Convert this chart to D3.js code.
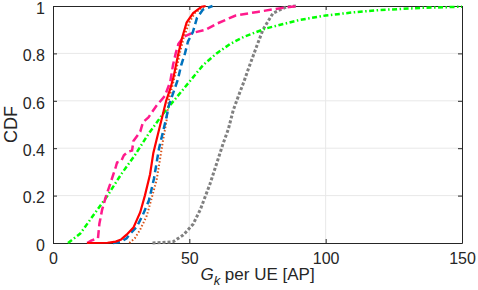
<!DOCTYPE html>
<html>
<head>
<meta charset="utf-8">
<script src="https://cdn.jsdelivr.net/npm/d3@7"></script>
<style>
  body { margin: 0; background: #fff; }
  svg { display: block; font-family: "Liberation Sans", Arial, sans-serif; }
</style>
</head>
<body>
<svg id="canvas" width="478" height="290"></svg>
<script>
// values (x = G_k, y = CDF)
let greenX = [5.5, 10, 15, 20, 25, 30, 35, 40, 45, 50, 55, 60, 65, 70, 78, 90, 100, 110, 120, 135, 150]
let greenY = [0, 0.04, 0.12, 0.2, 0.29, 0.37, 0.46, 0.54, 0.61, 0.68, 0.75, 0.8, 0.84, 0.87, 0.905, 0.94, 0.96, 0.973, 0.983, 0.992, 0.997]

let pinkX = [12.5, 14, 16.5, 17, 18, 19.5, 21, 23, 23.5, 25, 26, 27.5, 29, 29.5, 32, 33, 35, 38, 41, 43, 44, 45, 46, 48, 51, 56, 60, 67, 75, 83, 90]
let pinkY = [0, 0.01, 0.02, 0.08, 0.14, 0.2, 0.25, 0.32, 0.34, 0.345, 0.37, 0.385, 0.39, 0.43, 0.47, 0.51, 0.53, 0.58, 0.62, 0.68, 0.75, 0.8, 0.84, 0.87, 0.886, 0.9, 0.925, 0.96, 0.975, 0.99, 1]

let redX = [12.5, 20, 23, 25, 27, 29.5, 32, 33.7, 35.6, 36.8, 38.5, 40, 41.5, 43, 44.2, 45.8, 47.2, 49, 51.4, 54.5, 56]
let redY = [0, 0.001, 0.006, 0.015, 0.035, 0.065, 0.13, 0.2, 0.29, 0.38, 0.46, 0.53, 0.6, 0.65, 0.7, 0.79, 0.86, 0.93, 0.97, 0.997, 1]

let blueX = [22, 25, 27, 28, 30.8, 33, 35.2, 37, 38.9, 41.4, 42.5, 44, 45.8, 47, 48.4, 49.5, 51.3, 52.8, 55, 58.5]
let blueY = [0, 0.005, 0.02, 0.035, 0.07, 0.12, 0.18, 0.27, 0.4, 0.52, 0.58, 0.63, 0.69, 0.75, 0.8, 0.85, 0.89, 0.95, 0.985, 1]

let orangeX = [28, 30, 31.9, 34.4, 36.2, 38, 39.2, 40.3, 41.7, 42.4, 43.5, 45, 46.5, 48, 50, 52, 55, 56]
let orangeY = [0, 0.02, 0.055, 0.115, 0.19, 0.266, 0.35, 0.43, 0.52, 0.6, 0.65, 0.72, 0.8, 0.87, 0.93, 0.97, 0.995, 1]

let grayX = [36.5, 44, 47.8, 51.4, 54, 55.8, 57.6, 60, 62.4, 64.3, 66.1, 68, 70, 71.5, 74.7, 77, 80.7, 85.7, 89.5]
let grayY = [0, 0.005, 0.034, 0.08, 0.14, 0.195, 0.25, 0.335, 0.42, 0.48, 0.56, 0.62, 0.68, 0.73, 0.83, 0.9, 0.97, 0.997, 1]

let xTicks = [0, 50, 100, 150]
let yTicks = [0, 0.2, 0.4, 0.6, 0.8, 1]

let canvas = d3.select('#canvas')

let plotLeft = 53, plotRight = 462, plotTop = 6, plotBottom = 243

let xScale = d3.scaleLinear().domain([0, 150]).range([plotLeft, plotRight])
let yScale = d3.scaleLinear().domain([0, 1]).range([plotBottom, plotTop])

// grid
canvas.append('g')
    .selectAll('line')
    .data(xTicks.slice(1, -1))
    .enter()
    .append('line')
    .attr('x1', (d) => xScale(d)).attr('x2', (d) => xScale(d))
    .attr('y1', plotTop).attr('y2', plotBottom)
    .attr('stroke', '#e8e8e8').attr('stroke-width', 1)
canvas.append('g')
    .selectAll('line')
    .data(yTicks.slice(1, -1))
    .enter()
    .append('line')
    .attr('y1', (d) => yScale(d)).attr('y2', (d) => yScale(d))
    .attr('x1', plotLeft).attr('x2', plotRight)
    .attr('stroke', '#e8e8e8').attr('stroke-width', 1)

// axes (ticks point inward, box around plot)
let axisColor = '#262626'
let styleAxis = (g) => {
    g.select('.domain').attr('stroke', axisColor)
    g.selectAll('.tick line').attr('stroke', axisColor)
    g.selectAll('.tick text').attr('fill', axisColor).style('font-size', '16px')
}

canvas.append('g')
    .attr('transform', 'translate(0,' + plotBottom + ')')
    .call(d3.axisBottom(xScale).tickValues(xTicks).tickSizeInner(-4).tickSizeOuter(0).tickPadding(10))
    .call(styleAxis)
canvas.append('g')
    .attr('transform', 'translate(' + plotLeft + ',0)')
    .call(d3.axisLeft(yScale).tickValues(yTicks).tickFormat(d3.format('')).tickSizeInner(-4).tickSizeOuter(0).tickPadding(8))
    .call(styleAxis)
    .call((g) => g.selectAll('.tick text').attr('dy', '0.45em'))
canvas.append('g')
    .attr('transform', 'translate(0,' + plotTop + ')')
    .call(d3.axisTop(xScale).tickValues(xTicks).tickSizeInner(-4).tickSizeOuter(0).tickFormat(''))
    .call(styleAxis)
canvas.append('g')
    .attr('transform', 'translate(' + plotRight + ',0)')
    .call(d3.axisRight(yScale).tickValues(yTicks).tickSizeInner(-4).tickSizeOuter(0).tickFormat(''))
    .call(styleAxis)

// curves
let series = [
    { xs: grayX, ys: grayY, color: '#808080', width: 3, dash: '3,2' },
    { xs: greenX, ys: greenY, color: '#00ff00', width: 2.5, dash: '5,2.5,1.5,2.5' },
    { xs: pinkX, ys: pinkY, color: '#ff1a8c', width: 2.5, dash: '8,4' },
    { xs: orangeX, ys: orangeY, color: '#d95319', width: 2, dash: '1.5,2' },
    { xs: blueX, ys: blueY, color: '#0072bd', width: 2.5, dash: '7,4' },
    { xs: redX, ys: redY, color: '#ff0000', width: 2.2, dash: null }
]

let line = d3.line()
    .x((d) => xScale(d[0]))
    .y((d) => yScale(d[1]))

series.forEach((s) => {
    let pts = s.xs.map((x, i) => [x, s.ys[i]])
    canvas.append('path')
        .attr('d', line(pts))
        .attr('fill', 'none')
        .attr('stroke', s.color)
        .attr('stroke-width', s.width)
        .attr('stroke-dasharray', s.dash)
})

// labels
let xLabel = canvas.append('text')
    .attr('x', (plotLeft + plotRight) / 2)
    .attr('y', 280)
    .attr('text-anchor', 'middle')
    .attr('fill', axisColor)
    .style('font-size', '17px')
xLabel.append('tspan').style('font-style', 'italic').text('G')
xLabel.append('tspan').style('font-style', 'italic').style('font-size', '13px').attr('dy', 5).text('k')
xLabel.append('tspan').attr('dy', -5).text(' per UE [AP]')

canvas.append('text')
    .attr('transform', 'translate(17,' + ((plotTop + plotBottom) / 2) + ') rotate(-90)')
    .attr('text-anchor', 'middle')
    .attr('fill', axisColor)
    .style('font-size', '18px')
    .text('CDF')
</script>
</body>
</html>
